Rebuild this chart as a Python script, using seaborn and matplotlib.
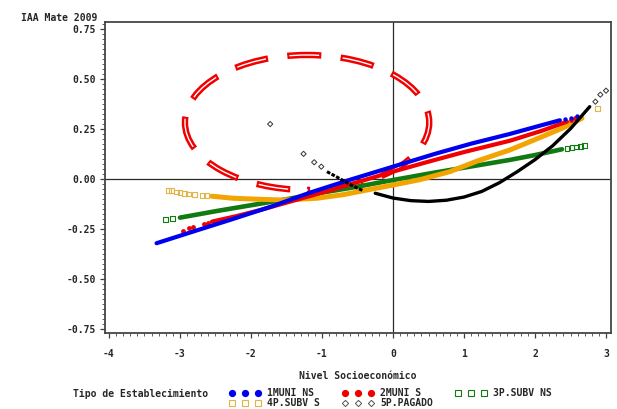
import matplotlib
matplotlib.use("Agg")
import matplotlib.pyplot as plt
from matplotlib.patches import Ellipse
from matplotlib.lines import Line2D
from matplotlib.ticker import MultipleLocator
import seaborn as sns

# ---------------- data ----------------
blue_x = [-3.33, -2.8, -2.30, -1.7, -1.17, -0.6, 0.0, 0.6, 1.1, 1.65, 2.1, 2.35]
blue_y = [-0.323, -0.263, -0.207, -0.138, -0.07, -0.005, 0.06, 0.125, 0.175, 0.224, 0.268, 0.292]
blue_sx = [2.42, 2.5, 2.59]
blue_sy = [0.298, 0.305, 0.314]

red_sx = [-2.96, -2.87, -2.81, -2.66, -2.61, 2.5, 2.56]
red_sy = [-0.26, -0.247, -0.243, -0.227, -0.22, 0.293, 0.302]
red_x = [-2.55, -2.2, -1.87, -1.4, -0.9, -0.4, 0.0, 0.5, 1.0, 1.65, 2.1, 2.45]
red_y = [-0.215, -0.187, -0.157, -0.11, -0.06, -0.007, 0.035, 0.085, 0.133, 0.19, 0.24, 0.285]

green_sx = [-3.2, -3.1, 2.45, 2.52, 2.58, 2.64, 2.7]
green_sy = [-0.203, -0.2, 0.15, 0.155, 0.158, 0.162, 0.167]
green_x = [-3.0, -2.5, -2.0, -1.5, -1.0, -0.5, 0.0, 0.5, 1.0, 1.65, 2.0, 2.38]
green_y = [-0.195, -0.163, -0.133, -0.103, -0.07, -0.04, -0.007, 0.025, 0.055, 0.094, 0.118, 0.147]

yellow_sx = [-3.16, -3.12, -3.05, -3.0, -2.94, -2.88, -2.79, -2.69, -2.62, 2.88]
yellow_sy = [-0.06, -0.06, -0.067, -0.07, -0.073, -0.077, -0.08, -0.083, -0.083, 0.349]
yellow_x = [-2.55, -2.25, -1.9, -1.55, -1.07, -0.7, -0.37, 0.0, 0.38, 0.8, 1.2, 1.65, 2.1, 2.4, 2.66]
yellow_y = [-0.088, -0.098, -0.103, -0.107, -0.098, -0.08, -0.057, -0.032, -0.005, 0.035, 0.09, 0.144, 0.21, 0.255, 0.302]

black_sx = [-1.73, -1.26, -1.11, -1.01, 2.85, 2.92, 3.0]
black_sy = [0.273, 0.124, 0.082, 0.06, 0.385, 0.42, 0.44]
black_dx = [-0.93, -0.8, -0.65, -0.5, -0.42]
black_dy = [0.035, 0.01, -0.02, -0.048, -0.06]
black_x = [-0.25, 0.0, 0.25, 0.5, 0.75, 1.0, 1.25, 1.5, 1.75, 2.0, 2.25, 2.5, 2.77]
black_y = [-0.073, -0.097, -0.11, -0.114, -0.108, -0.092, -0.064, -0.02, 0.035, 0.095, 0.165, 0.25, 0.36]

x_ticks = [-4, -3, -2, -1, 0, 1, 2, 3]
y_ticks = [-0.75, -0.50, -0.25, 0.00, 0.25, 0.50, 0.75]
legend_labels = ["1MUNI NS", "2MUNI S", "3P.SUBV NS", "4P.SUBV S", "5P.PAGADO"]

# annotation ellipse (centre, width, height in data units)
ell_center = (-1.21, 0.281)
ell_w, ell_h = 3.44, 0.675

# ---------------- style ----------------
sns.set_style("white")
plt.rcParams["font.family"] = ["DejaVu Sans Mono", "DejaVu Sans"]
plt.rcParams["axes.unicode_minus"] = False
FS = 7

C_BLUE = "#0000F0"
C_RED = "#F00000"
C_GREEN = "#127A12"
C_YEL = "#F2A500"
C_YEL_L = "#E2B548"
C_BLACK = "#000000"

W, H = 617, 409
fig = plt.figure(figsize=(W / 100, H / 100), dpi=100)
ax = fig.add_axes([105 / W, 1 - 333 / H, (611 - 105) / W, (333 - 21.5) / H])
ax.set_xlim(-4.056, 3.07)
ax.set_ylim(-0.772, 0.786)

# reference lines
ax.axhline(0, color="#2a2a2a", lw=0.9, zorder=1)
ax.axvline(0, color="#2a2a2a", lw=0.9, zorder=1)

# ellipse annotation (below the data): thick red dashes with a thin white core
RED_LW = 4.6
DASH_ON, DASH_OFF = 24.5, 14.0   # points
PERIOD = DASH_ON + DASH_OFF
OFFS = DASH_ON - 2.2
e1 = Ellipse(ell_center, ell_w, ell_h, fill=False, ec=C_RED, lw=RED_LW,
             linestyle=(OFFS / RED_LW, (DASH_ON / RED_LW, DASH_OFF / RED_LW)),
             capstyle="butt", zorder=2)
e2 = Ellipse(ell_center, ell_w, ell_h, fill=False, ec="white", lw=1.0,
             linestyle=((OFFS - 1.5) % PERIOD, (DASH_ON - 3.0, DASH_OFF + 3.0)),
             capstyle="butt", zorder=2.1)
ax.add_patch(e1)
ax.add_patch(e2)

line_kw = dict(ax=ax, estimator=None, sort=False, legend=False)
sns.lineplot(x=green_x, y=green_y, color=C_GREEN, lw=3.3, zorder=3, **line_kw)
sns.lineplot(x=red_x, y=red_y, color=C_RED, lw=3.0, zorder=3.2, **line_kw)
sns.lineplot(x=blue_x, y=blue_y, color=C_BLUE, lw=3.0, zorder=3.3, **line_kw)
sns.lineplot(x=yellow_x, y=yellow_y, color=C_YEL, lw=3.6, zorder=3.1, **line_kw)
sns.lineplot(x=black_x, y=black_y, color=C_BLACK, lw=2.4, zorder=4, **line_kw)
sns.lineplot(x=black_dx, y=black_dy, color=C_BLACK, lw=2.2, zorder=4,
             linestyle=(0, (1.2, 0.5)), **line_kw)

sc_kw = dict(ax=ax, legend=False)
sns.scatterplot(x=blue_sx, y=blue_sy, color=C_BLUE, marker="o", s=10, linewidth=0, zorder=3.3, **sc_kw)
sns.scatterplot(x=red_sx, y=red_sy, color=C_RED, marker="o", s=12, linewidth=0, zorder=3.2, **sc_kw)
sns.scatterplot(x=green_sx, y=green_sy, marker="s", s=12, facecolor="none",
                edgecolor=C_GREEN, linewidth=0.8, zorder=3, **sc_kw)
sns.scatterplot(x=yellow_sx, y=yellow_sy, marker="s", s=12, facecolor="none",
                edgecolor=C_YEL_L, linewidth=0.8, zorder=3.1, **sc_kw)
sns.scatterplot(x=black_sx, y=black_sy, marker="D", s=7, facecolor="none",
                edgecolor="#333333", linewidth=0.7, zorder=4, **sc_kw)

# axes formatting
ax.set_xticks(x_ticks)
ax.set_xticklabels([str(v) for v in x_ticks])
ax.set_yticks(y_ticks)
ax.set_yticklabels([f"{v:.2f}" for v in y_ticks])
ax.xaxis.set_minor_locator(MultipleLocator(0.1))
ax.yaxis.set_minor_locator(MultipleLocator(0.025))
ax.tick_params(which="major", direction="out", length=3.5, width=0.9, color="#404040",
               labelsize=FS, bottom=True, left=True)
ax.tick_params(which="minor", direction="out", length=2.2, width=0.7, color="#606060",
               bottom=True, left=True)
ax.tick_params(axis="x", which="major", pad=8)
ax.tick_params(axis="y", which="major", pad=3)
for lab in ax.get_xticklabels() + ax.get_yticklabels():
    lab.set_fontweight("bold")
for sp in ax.spines.values():
    sp.set_color("#454545")
    sp.set_linewidth(1.3)

ax.set_xlabel("Nivel Socioeconómico", fontsize=FS, fontweight="bold", labelpad=9)
ax.set_ylabel("")
fig.text(97 / W, 1 - 18 / H, "IAA Mate 2009", ha="right", va="center",
         fontsize=FS, fontweight="bold")

# legend
fig.text(73 / W, 1 - 393.5 / H, "Tipo de Establecimiento", ha="left", va="center",
         fontsize=FS, fontweight="bold")
h1 = Line2D([], [], ls="none", marker="o", ms=4.2, mfc=C_BLUE, mec=C_BLUE)
h2 = Line2D([], [], ls="none", marker="o", ms=4.2, mfc=C_RED, mec=C_RED)
h3 = Line2D([], [], ls="none", marker="s", ms=4.0, mfc="none", mec=C_GREEN, mew=0.8)
h4 = Line2D([], [], ls="none", marker="s", ms=4.0, mfc="none", mec=C_YEL_L, mew=0.8)
h5 = Line2D([], [], ls="none", marker="D", ms=3.2, mfc="none", mec="#555555", mew=0.7)
handles = [h1, h4, h2, h5, h3]
labels = [legend_labels[0], legend_labels[3], legend_labels[1], legend_labels[4], legend_labels[2]]
leg = fig.legend(handles, labels, ncol=3, numpoints=3, loc="upper left",
                 bbox_to_anchor=(229 / W, 1 - 388 / H), frameon=False,
                 prop={"family": "DejaVu Sans Mono", "weight": "bold", "size": FS},
                 handlelength=3.3, handletextpad=0.6, columnspacing=2.3,
                 labelspacing=0.05, borderpad=0, borderaxespad=0, markerscale=1.0)

fig.savefig("out.png", dpi=100)
